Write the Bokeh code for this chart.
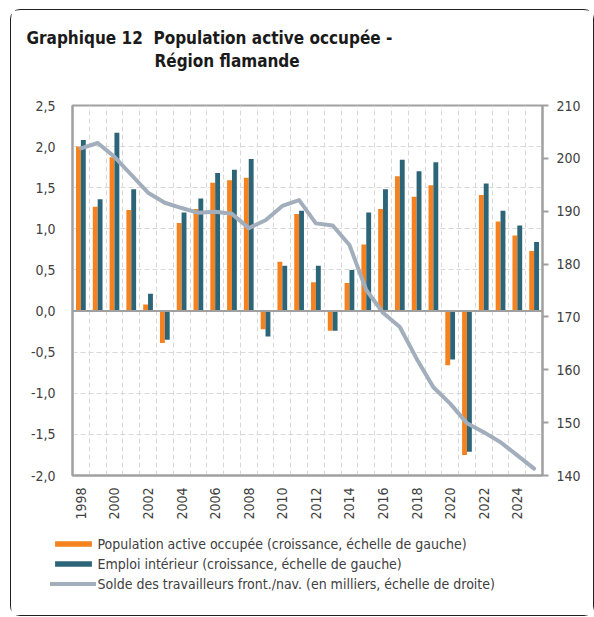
import math
from bokeh.plotting import figure
from bokeh.layouts import column
from bokeh.models import (Range1d, LinearAxis, FixedTicker, Span, Title,
                          Legend, LegendItem)
from bokeh.embed import file_html
from bokeh.resources import INLINE

years = list(range(1998, 2026))
pop_active = [2.00, 1.27, 1.87, 1.23, 0.08, -0.39, 1.07, 1.24, 1.56, 1.59, 1.62, -0.22, 0.60, 1.18,
              0.35, -0.24, 0.34, 0.81, 1.24, 1.64, 1.39, 1.53, -0.66, -1.75, 1.41, 1.09, 0.92, 0.73]
emploi_int = [2.08, 1.36, 2.17, 1.48, 0.21, -0.35, 1.20, 1.37, 1.68, 1.72, 1.85, -0.31, 0.55, 1.22,
              0.55, -0.24, 0.50, 1.20, 1.48, 1.84, 1.70, 1.81, -0.59, -1.71, 1.55, 1.22, 1.04, 0.84]
solde_front = [201.9, 202.9, 200.3, 196.9, 193.5, 191.6, 190.6, 189.7, 189.9, 189.5, 186.8, 188.3,
               191.0, 192.1, 187.7, 187.3, 183.6, 175.1, 170.8, 168.1, 162.1, 156.7, 153.6, 149.9,
               148.2, 146.3, 143.8, 141.3]
left_ticks = [-2.0, -1.5, -1.0, -0.5, 0.0, 0.5, 1.0, 1.5, 2.0, 2.5]
left_labels = ["-2,0", "-1,5", "-1,0", "-0,5", "0,0", "0,5", "1,0", "1,5", "2,0", "2,5"]
right_ticks = [140, 150, 160, 170, 180, 190, 200, 210]
year_ticks = list(range(1998, 2025, 2))
title_num = "Graphique 12"
title_l1 = "Population active occupée -"
title_l2 = "Région flamande"
legend_labels = ["Population active occupée (croissance, échelle de gauche)",
                 "Emploi intérieur (croissance, échelle de gauche)",
                 "Solde des travailleurs front./nav. (en milliers, échelle de droite)"]

ORANGE = "#F5821F"
TEAL = "#2C6478"
LINEC = "#A2AEBC"
AXISC = "#A0A0A0"
GRIDC = "#D9D9D9"
TXT = "#404040"
FONT = "DejaVu Sans Condensed"

p = figure(width=582, height=515, output_backend="svg", toolbar_location=None,
           title_location=None,
           x_range=Range1d(1997.5, 2025.5), y_range=Range1d(-2.0, 2.5),
           min_border_left=61, min_border_right=51, min_border_top=95, min_border_bottom=50)
p.frame_align = False
p.extra_y_ranges = {"right": Range1d(140, 210)}
p.background_fill_color = "white"
p.border_fill_color = "white"
p.outline_line_color = AXISC
p.outline_line_width = 2

# grids
p.ygrid.ticker = FixedTicker(ticks=left_ticks)
p.ygrid.grid_line_color = GRIDC
p.ygrid.grid_line_dash = "5 3"
p.xgrid.ticker = FixedTicker(ticks=[y + 0.5 for y in years[:-1]])
p.xgrid.grid_line_color = GRIDC
p.xgrid.grid_line_dash = "5 3"

# axes
ax = p.xaxis[0]
ax.ticker = FixedTicker(ticks=year_ticks)
ax.major_label_orientation = math.pi / 2
ax.major_tick_line_color = None
ax.minor_tick_line_color = None
ax.axis_line_color = AXISC
ax.axis_line_width = 2
ax.major_label_text_font = FONT
ax.major_label_text_font_size = "14px"
ax.major_label_text_color = TXT
ax.major_label_standoff = 6

ay = p.yaxis[0]
ay.ticker = FixedTicker(ticks=left_ticks)
ay.major_label_overrides = {t: l for t, l in zip(left_ticks, left_labels)}
ay.major_tick_line_color = None
ay.minor_tick_line_color = None
ay.axis_line_color = AXISC
ay.axis_line_width = 2
ay.major_label_text_font = FONT
ay.major_label_text_font_size = "14px"
ay.major_label_text_color = TXT
ay.major_label_standoff = 11

ar = LinearAxis(y_range_name="right", ticker=FixedTicker(ticks=right_ticks))
ar.major_tick_line_color = AXISC
ar.major_tick_line_width = 2
ar.major_tick_out = 6
ar.major_tick_in = 0
ar.minor_tick_line_color = None
ar.axis_line_color = AXISC
ar.axis_line_width = 2
ar.major_label_text_font = FONT
ar.major_label_text_font_size = "14px"
ar.major_label_text_color = TXT
ar.major_label_standoff = 8
p.add_layout(ar, "right")

# data
xo = [y - 0.145 for y in years]
xt = [y + 0.145 for y in years]
p.vbar(x=xo, top=pop_active, bottom=0, width=0.29, fill_color=ORANGE, line_color=None)
p.vbar(x=xt, top=emploi_int, bottom=0, width=0.29, fill_color=TEAL, line_color=None)
p.add_layout(Span(location=0, dimension="width", line_color=AXISC, line_width=2))
p.line(x=years, y=solde_front, y_range_name="right", line_color=LINEC, line_width=4,
       line_join="round", line_cap="round")

# title: a spacer nearest the frame, then line 2, then line 1
tstyle = dict(text_font=FONT, text_font_size="17px", text_font_style="bold",
              text_color="#1A1A1A", align="left")
p.add_layout(Title(text="\u00a0", standoff=13, **tstyle), "above")
p.add_layout(Title(text=title_l2, offset=82, standoff=0, **tstyle), "above")
p.add_layout(Title(text=title_num + "\u00a0" * 2 + title_l1, offset=-46, standoff=1, **tstyle),
             "above")

# legend strip: same series and styles, drawn outside its own (hidden) ranges
lf = figure(width=582, height=90, output_backend="svg", toolbar_location=None,
            title_location=None, x_axis_location=None, y_axis_location=None,
            x_range=Range1d(0, 1), y_range=Range1d(0, 1),
            min_border_left=0, min_border_right=0, min_border_top=0, min_border_bottom=0)
lf.frame_align = False
lf.grid.visible = False
lf.outline_line_color = None
lf.background_fill_color = "white"
lf.border_fill_color = "white"
k1 = lf.vbar(x=xo, top=pop_active, bottom=0, width=0.29, fill_color=ORANGE, line_color=None)
k2 = lf.vbar(x=xt, top=emploi_int, bottom=0, width=0.29, fill_color=TEAL, line_color=None)
k3 = lf.line(x=years, y=solde_front, line_color=LINEC, line_width=4, line_cap="round")
legend = Legend(items=[LegendItem(label=legend_labels[0], renderers=[k1]),
                       LegendItem(label=legend_labels[1], renderers=[k2]),
                       LegendItem(label=legend_labels[2], renderers=[k3])],
                location=(38.5, 23.5), orientation="vertical",
                glyph_width=46, glyph_height=7, label_height=16, spacing=4,
                label_standoff=2, padding=0, margin=0,
                border_line_color=None, background_fill_alpha=0,
                label_text_font=FONT, label_text_font_size="14px", label_text_color=TXT)
lf.add_layout(legend, "center")

lay = column(p, lf, spacing=0)
lay.styles = {"margin-left": "10px", "margin-top": "9px",
              "border": "1.5px solid #202020", "border-radius": "10px"}

open("out.html", "w").write(file_html(lay, INLINE))
